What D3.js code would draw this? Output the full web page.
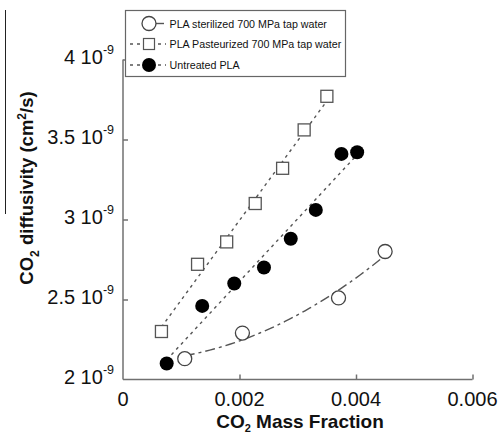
<!DOCTYPE html>
<html>
<head>
<meta charset="utf-8">
<script src="https://cdn.jsdelivr.net/npm/d3@7"></script>
<style>
  html, body { margin: 0; padding: 0; background: #fff; }
  svg { display: block; font-family: "Liberation Sans", Arial, sans-serif; }
</style>
</head>
<body>
<svg id="chart" width="501" height="434"></svg>
<script>
// CO2 mass fraction (x) and CO2 diffusivity in units of 1e-9 cm^2/s (y)
const sterilizedX = [0.00106, 0.00205, 0.00370, 0.00450];
const sterilizedD = [2.13, 2.29, 2.51, 2.80];

const pasteurizedX = [0.00066, 0.00128, 0.00178, 0.00227, 0.00274, 0.00311, 0.00350];
const pasteurizedD = [2.30, 2.72, 2.86, 3.10, 3.32, 3.56, 3.77];

const untreatedX = [0.00075, 0.00136, 0.00191, 0.00242, 0.00288, 0.00331, 0.00375, 0.00402];
const untreatedD = [2.10, 2.46, 2.60, 2.70, 2.88, 3.06, 3.41, 3.42];

const xTicks = [0, 0.002, 0.004, 0.006];
const xTickLabels = ["0", "0.002", "0.004", "0.006"];
const yTicks = [2, 2.5, 3, 3.5, 4];
const yTickMantissa = ["2", "2.5", "3", "3.5", "4"];

const legendLabels = [
  "PLA sterilized 700 MPa tap water",
  "PLA Pasteurized 700 MPa tap water",
  "Untreated PLA"
];

const svg = d3.select("#chart");
const axisColor = "#707070";
const lineColor = "#555";

const x = d3.scaleLinear().domain([0, 0.006]).range([123, 472.5]);
const y = d3.scaleLinear().domain([2, 4]).range([379.5, 59.5]);

// stray rule along the left edge
svg.append("line")
  .attr("x1", 5.5).attr("x2", 5.5).attr("y1", 10).attr("y2", 214)
  .attr("stroke", "#222").attr("stroke-width", 1);

// axes (ticks point inward)
const xAxis = d3.axisTop(x).tickValues(xTicks.slice(1)).tickSize(5).tickFormat("");
const gx = svg.append("g").attr("transform", `translate(0,${y(2)})`).call(xAxis);
gx.select(".domain").attr("d", `M${x(0)},0H${x(0.006)}`);
const yAxis = d3.axisRight(y).tickValues(yTicks.slice(1)).tickSize(5).tickFormat("");
const gy = svg.append("g").attr("transform", `translate(${x(0)},0)`).call(yAxis);
gy.select(".domain").attr("d", `M0,${y(4)}V${y(2)}`);
[gx, gy].forEach(g => {
  g.selectAll("path, line").attr("stroke", axisColor).attr("stroke-width", 1.5);
});

// x tick labels
svg.append("g").selectAll("text").data(xTicks).join("text")
  .attr("x", d => x(d)).attr("y", y(2) + 26.5)
  .attr("text-anchor", "middle").attr("font-size", 20).attr("fill", "#111")
  .text((d, i) => xTickLabels[i]);

// y tick labels: mantissa followed by 10 with a raised exponent
const yl = svg.append("g").selectAll("text").data(yTicks).join("text")
  .attr("x", 114).attr("y", d => y(d) + 4)
  .attr("text-anchor", "end").attr("font-size", 20).attr("fill", "#111");
yl.append("tspan").text((d, i) => yTickMantissa[i] + " 10");
yl.append("tspan").attr("dy", -10).attr("font-size", 12.5).text("-9");

// axis titles
const xt = svg.append("text").attr("x", 300).attr("y", 427.5)
  .attr("text-anchor", "middle").attr("font-size", 19).attr("font-weight", "bold").attr("fill", "#111");
xt.append("tspan").text("CO");
xt.append("tspan").attr("dy", 4).attr("font-size", 11).text("2");
xt.append("tspan").attr("dy", -4).text(" Mass Fraction");

const yt = svg.append("text").attr("transform", "translate(33,188) rotate(-90)")
  .attr("text-anchor", "middle").attr("font-size", 18.5).attr("font-weight", "bold").attr("fill", "#111");
yt.append("tspan").text("CO");
yt.append("tspan").attr("dy", 6).attr("font-size", 12).text("2");
yt.append("tspan").attr("dy", -6).text(" diffusivity (cm");
yt.append("tspan").attr("dy", -7).attr("font-size", 12).text("2");
yt.append("tspan").attr("dy", 7).text("/s)");

// fitted curves
function linearFit(xs, ys) {
  const mx = d3.mean(xs), my = d3.mean(ys);
  let sxy = 0, sxx = 0;
  xs.forEach((v, i) => { sxy += (v - mx) * (ys[i] - my); sxx += (v - mx) ** 2; });
  const b = sxy / sxx, a = my - b * mx;
  return v => a + b * v;
}
function quadFit(xs, ys) {
  // least squares for y = c0 + c1 x + c2 x^2 (x scaled to 1e-3 for conditioning)
  const s = xs.map(v => v * 1000);
  const S = k => d3.sum(s, v => v ** k);
  const T = k => d3.sum(s, (v, i) => ys[i] * v ** k);
  const A = [[S(0), S(1), S(2)], [S(1), S(2), S(3)], [S(2), S(3), S(4)]];
  const B = [T(0), T(1), T(2)];
  const n = 3;
  for (let i = 0; i < n; i++) {
    for (let j = i + 1; j < n; j++) {
      const f = A[j][i] / A[i][i];
      for (let k = i; k < n; k++) A[j][k] -= f * A[i][k];
      B[j] -= f * B[i];
    }
  }
  const c = [0, 0, 0];
  for (let i = n - 1; i >= 0; i--) {
    let sum = B[i];
    for (let k = i + 1; k < n; k++) sum -= A[i][k] * c[k];
    c[i] = sum / A[i][i];
  }
  return v => { const t = v * 1000; return c[0] + c[1] * t + c[2] * t * t; };
}

const line = d3.line().x(d => x(d[0])).y(d => y(d[1]));
function drawFit(fn, x0, x1, dash) {
  const pts = d3.range(0, 41).map(i => { const v = x0 + (x1 - x0) * i / 40; return [v, fn(v)]; });
  svg.append("path").attr("d", line(pts)).attr("fill", "none")
    .attr("stroke", lineColor).attr("stroke-width", 1.4).attr("stroke-dasharray", dash);
}
drawFit(linearFit(pasteurizedX, pasteurizedD), d3.min(pasteurizedX), d3.max(pasteurizedX), "3,4");
drawFit(linearFit(untreatedX, untreatedD), d3.min(untreatedX), d3.max(untreatedX), "3,4");
drawFit(quadFit(sterilizedX, sterilizedD), d3.min(sterilizedX), d3.max(sterilizedX), "10,4,3,4");

// markers
svg.append("g").selectAll("rect").data(pasteurizedX).join("rect")
  .attr("x", d => x(d) - 6).attr("y", (d, i) => y(pasteurizedD[i]) - 6)
  .attr("width", 12).attr("height", 12)
  .attr("fill", "#fff").attr("stroke", "#555").attr("stroke-width", 1.3);
svg.append("g").selectAll("circle").data(untreatedX).join("circle")
  .attr("cx", d => x(d)).attr("cy", (d, i) => y(untreatedD[i])).attr("r", 7)
  .attr("fill", "#000");
svg.append("g").selectAll("circle").data(sterilizedX).join("circle")
  .attr("cx", d => x(d)).attr("cy", (d, i) => y(sterilizedD[i])).attr("r", 7)
  .attr("fill", "#fff").attr("stroke", "#444").attr("stroke-width", 1.3);

// legend
const lg = svg.append("g");
lg.append("rect").attr("x", 125.5).attr("y", 10.5).attr("width", 220).attr("height", 66)
  .attr("fill", "#fff").attr("stroke", "#666").attr("stroke-width", 1.2);
const rows = [23.5, 44, 65];
const mx = 149;
// row 1: open circle with solid tail
lg.append("line").attr("x1", mx).attr("x2", 164).attr("y1", rows[0]).attr("y2", rows[0])
  .attr("stroke", lineColor).attr("stroke-width", 1.4);
lg.append("circle").attr("cx", mx).attr("cy", rows[0]).attr("r", 7)
  .attr("fill", "#fff").attr("stroke", "#444").attr("stroke-width", 1.3);
// row 2: dashed line with open square
lg.append("line").attr("x1", 130).attr("x2", 166).attr("y1", rows[1]).attr("y2", rows[1])
  .attr("stroke", lineColor).attr("stroke-width", 1.4).attr("stroke-dasharray", "3,4");
lg.append("rect").attr("x", mx - 5.5).attr("y", rows[1] - 5.5).attr("width", 11).attr("height", 11)
  .attr("fill", "#fff").attr("stroke", "#555").attr("stroke-width", 1.2);
// row 3: dashed line with filled circle
lg.append("line").attr("x1", 130).attr("x2", 166).attr("y1", rows[2]).attr("y2", rows[2])
  .attr("stroke", lineColor).attr("stroke-width", 1.4).attr("stroke-dasharray", "3,4");
lg.append("circle").attr("cx", mx).attr("cy", rows[2]).attr("r", 7).attr("fill", "#000");

lg.selectAll("text.lab").data(legendLabels).join("text").attr("class", "lab")
  .attr("x", 169.5).attr("y", (d, i) => rows[i] + 4)
  .attr("font-size", 10.7).attr("fill", "#111").text(d => d);
</script>
</body>
</html>
